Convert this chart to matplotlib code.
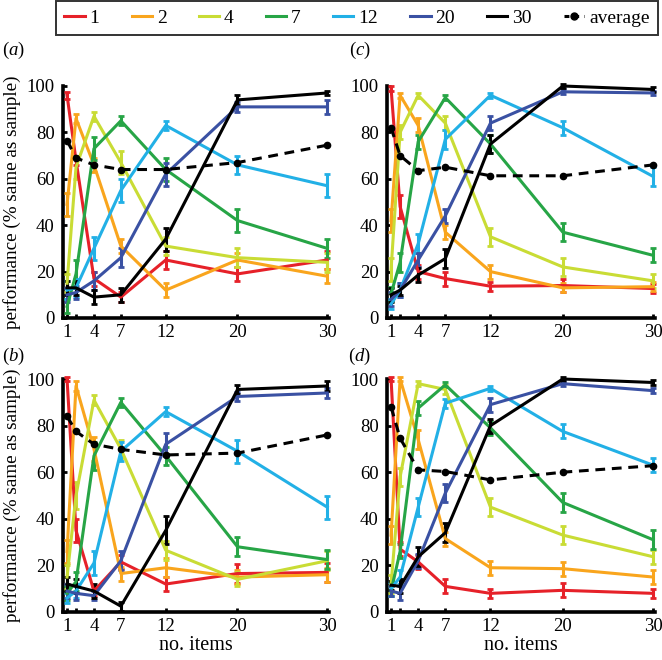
import matplotlib
matplotlib.use("Agg")
import matplotlib.pyplot as plt
from matplotlib.lines import Line2D

plt.rcParams['font.family'] = ['Liberation Serif', 'DejaVu Serif']
plt.rcParams['mathtext.fontset'] = 'custom'
plt.rcParams['mathtext.rm'] = 'Liberation Serif'
plt.rcParams['mathtext.it'] = 'Liberation Serif:italic'

items = [1, 2, 4, 7, 12, 20, 30]
xtick_labels = ['1', '', '4', '7', '12', '20', '30']
series_names = ['1', '2', '4', '7', '12', '20', '30']
colors = ['#e62129', '#f9a51d', '#c9dc35', '#27a546', '#22b0e6', '#3a51a3', '#000000']

# panel (a)
perf_a = [
    [96, 68, 17, 9, 25, 19, 25],
    [49, 86, 66, 31, 12, 25, 18],
    [15, 65, 87, 67, 31, 26, 24],
    [5, 19, 73, 85, 64, 42, 30],
    [12, 13, 30, 55, 83, 66, 57],
    [10, 11, 16, 26, 62, 91, 91],
    [13, 13, 9, 10, 34, 94, 97],
]
err_a = [
    [1.5, 2, 3, 2, 4, 3, 4],
    [5, 2, 3, 3, 3, 3, 3],
    [4, 5, 2, 5, 4, 4, 4],
    [3, 6, 5, 2, 5, 5, 4],
    [4, 4, 5, 5, 2, 4, 5],
    [3, 3, 4, 4, 5, 2, 3],
    [3, 3, 3, 3, 5, 2, 1],
]
avg_a = [76.5, 69, 66, 64, 64, 67, 74.5]

# panel (b)
perf_b = [
    [100, 35, 9, 21.5, 12, 16.5, 17],
    [26, 97, 70, 16.5, 19, 15, 16],
    [15, 50, 91, 70, 26.5, 14, 22],
    [8, 13, 67, 90, 67, 28, 22.5],
    [6, 9, 21, 69, 86, 69, 45],
    [9, 8, 7, 22, 72, 92.5, 94],
    [12, 11, 9, 2.5, 35, 95.5, 97],
]
err_b = [
    [1, 5, 2, 3, 3, 4, 4],
    [5, 2, 5, 3, 4, 3, 3],
    [5, 6, 2, 4, 4, 3, 4],
    [3, 4, 6, 2, 4, 4, 4],
    [2, 3, 5, 4, 2, 5, 5],
    [3, 3, 2, 4, 5, 2, 2],
    [3, 3, 3, 2, 6, 2, 2],
]
avg_b = [84, 77.5, 72, 69.8, 67.4, 68.2, 76]

# panel (c)
perf_c = [
    [99, 48, 20, 17, 13.7, 14, 12.7],
    [42, 96, 83, 37, 20, 13, 13.5],
    [21, 80, 96, 84, 35, 22, 16],
    [10.5, 24, 76, 95, 75, 37, 27],
    [6, 12, 32, 77, 96, 82, 61],
    [8, 12, 25, 44, 84, 97.5, 97],
    [10, 12, 18.5, 25.6, 75, 100, 98.5],
]
err_c = [
    [1, 5, 3, 3, 2, 3, 2],
    [5, 1, 3, 3, 3, 2, 2],
    [5, 3, 1, 3, 4, 4, 3],
    [3, 4, 3, 1, 4, 4, 3],
    [2, 3, 4, 4, 1, 3, 4],
    [3, 3, 3, 3, 3, 1, 1],
    [3, 2, 3, 4, 4, 1, 1],
]
avg_c = [82, 70, 63.5, 65, 61.3, 61.3, 66]

# panel (d)
perf_d = [
    [100, 27, 21.5, 11, 8, 9.3, 8],
    [33, 100, 74, 31.5, 19, 18.6, 15],
    [12, 58, 98, 95.5, 45, 33, 23.7],
    [9, 26, 87.5, 97.5, 79, 47, 31],
    [10, 15, 45, 89.6, 96, 77.5, 63],
    [9, 8, 22, 51, 89, 98, 95],
    [11.5, 11, 23.7, 34, 80, 100, 98.5],
]
err_d = [
    [1, 3, 3, 3, 2, 3, 2],
    [4, 1, 4, 3, 3, 3, 3],
    [4, 4, 1, 2, 4, 4, 3],
    [2, 3, 3, 1, 3, 4, 4],
    [3, 3, 4, 2, 1, 3, 3],
    [2, 3, 3, 4, 3, 1, 1],
    [2, 3, 4, 4, 3, 1, 1],
]
avg_d = [88, 74.6, 61, 60.3, 56.7, 60, 62.8]

W, H = 662, 660
fig = plt.figure(figsize=(W / 100, H / 100), dpi=100)


def px_axes(left, top, right, bottom):
    return fig.add_axes([left / W, 1 - bottom / H, (right - left) / W, (bottom - top) / H])


panels = [
    ('a', perf_a, err_a, avg_a, (63, 86, 329, 318), True, False, (2, 50)),
    ('c', perf_c, err_c, avg_c, (387, 86, 655, 318), False, False, (349, 50)),
    ('b', perf_b, err_b, avg_b, (63, 379, 329, 612), True, True, (2, 356)),
    ('d', perf_d, err_d, avg_d, (387, 379, 655, 612), False, True, (348, 356)),
]

for letter, perf, err, avg, box, ylab, xlab, lpos in panels:
    ax = px_axes(*box)
    for vals, e, c in zip(perf, err, colors):
        ax.errorbar(items, vals, yerr=e, color=c, lw=2.2, elinewidth=2.2,
                    capsize=2.2, capthick=2.0, clip_on=False, zorder=3)
    ax.plot(items, avg, color='black', ls=(0, (3.2, 2.2)), lw=2.2,
            marker='o', ms=4.5, clip_on=False, zorder=5)
    ax.set_xlim(0.55, 30.2)
    ax.set_ylim(0, 100)
    ax.set_xticks(items)
    ax.set_xticklabels(xtick_labels)
    ax.set_yticks([0, 20, 40, 60, 80, 100])
    ax.tick_params(axis='both', direction='in', length=3, width=2,
                   labelsize=13.5, pad=4)
    ax.tick_params(axis='y', pad=6)
    for s in ['top', 'right']:
        ax.spines[s].set_visible(False)
    for s in ['left', 'bottom']:
        ax.spines[s].set_linewidth(2.6)
    if ylab:
        ax.set_ylabel('performance (% same as sample)', fontsize=13.8, labelpad=4)
    if xlab:
        ax.set_xlabel('no. items', fontsize=14.5, labelpad=1)
    fig.text(lpos[0] / W, 1 - lpos[1] / H, '($\\mathit{%s}$)' % letter,
             fontsize=13.5, va='center', ha='left')

handles = [Line2D([0], [0], color=c, lw=2.2) for c in colors]
handles.append(Line2D([0], [0], color='black', lw=2.2, ls=(0, (1.6, 1.6)),
                      marker='o', ms=5))
labels = series_names + ['average']
leg = fig.legend(handles, labels, loc='upper center',
                 bbox_to_anchor=(357 / W, 1 - 1 / H),
                 ncol=8, borderaxespad=0, fancybox=False,
                 edgecolor='black', fontsize=14, handlelength=1.05,
                 handletextpad=0.25, borderpad=0.42, columnspacing=1.65)
leg.get_frame().set_linewidth(1.4)

fig.savefig('out.png', dpi=100)
